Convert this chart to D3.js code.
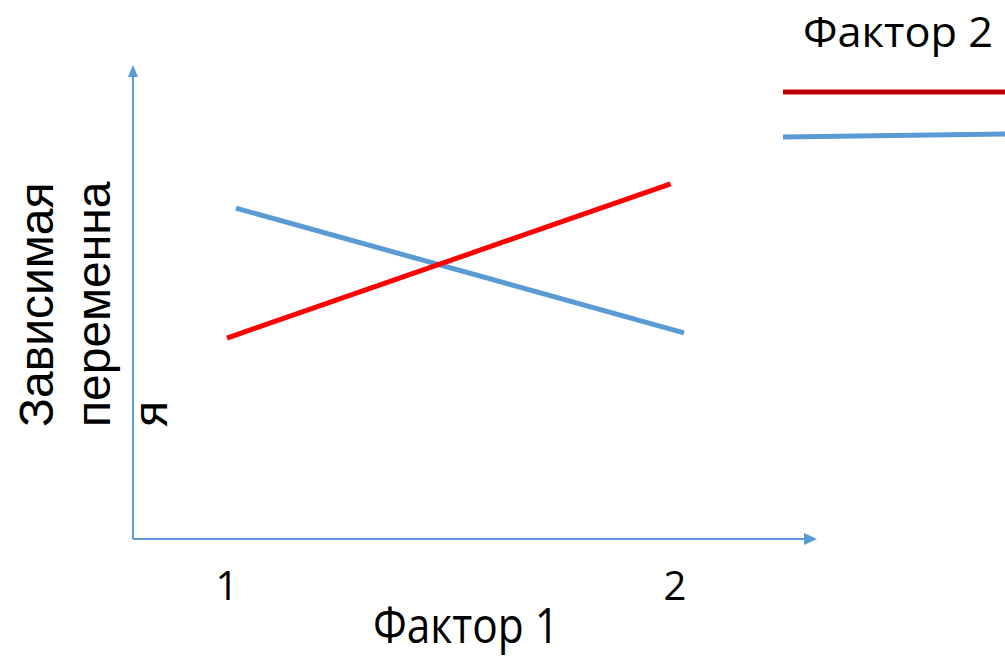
<!DOCTYPE html>
<html>
<head>
<meta charset="utf-8">
<script src="https://cdn.jsdelivr.net/npm/d3@7"></script>
<style>
  html, body { margin: 0; padding: 0; background: #fff; }
  svg { display: block; }
  .lbl { font-family: "Open Sans", sans-serif; fill: #000; }
  .ylbl { font-family: "Liberation Sans", Arial, sans-serif; fill: #000; }
</style>
</head>
<body>
<script>
const WIDTH = 1005;
const HEIGHT = 657;

// data
const factor1Levels = [1, 2];
const factor1Labels = ["1", "2"];
const redX = [1.0, 1.99];
const redY = [4.24, 7.49];
const blueX = [1.02, 2.02];
const blueY = [6.98, 4.35];
const yLabelLines = ["Зависимая", "переменна", "я"];

const RED = "#ff0000";
const LEGEND_RED = "#c00000";
const BLUE = "#5b9bd5";

const x = d3.scaleLinear().domain([1, 2]).range([227, 675]);
const y = d3.scaleLinear().domain([0, 10]).range([539, 65]);

const svg = d3.select("body").append("svg")
    .attr("width", WIDTH)
    .attr("height", HEIGHT);

// axes with arrowheads
const axisLeft = 133;
const axisRight = 804;
const axisTop = 77;

svg.append("line")
    .attr("x1", axisLeft).attr("y1", y(0))
    .attr("x2", axisRight).attr("y2", y(0))
    .attr("stroke", BLUE).attr("stroke-width", 2);
svg.append("path")
    .attr("d", `M${axisRight},${y(0) - 6} L${axisRight + 13},${y(0)} L${axisRight},${y(0) + 6} Z`)
    .attr("fill", BLUE);

svg.append("line")
    .attr("x1", axisLeft).attr("y1", y(0))
    .attr("x2", axisLeft).attr("y2", axisTop)
    .attr("stroke", BLUE).attr("stroke-width", 2);
svg.append("path")
    .attr("d", `M${axisLeft - 5},${axisTop} L${axisLeft},${y(10)} L${axisLeft + 5},${axisTop} Z`)
    .attr("fill", BLUE);

// data lines
const line = d3.line().x(d => x(d[0])).y(d => y(d[1]));

svg.append("path")
    .attr("d", line(d3.zip(blueX, blueY)))
    .attr("fill", "none")
    .attr("stroke", BLUE)
    .attr("stroke-width", 5);

svg.append("path")
    .attr("d", line(d3.zip(redX, redY)))
    .attr("fill", "none")
    .attr("stroke", RED)
    .attr("stroke-width", 5);

// tick labels
svg.selectAll(".tick-lbl")
    .data(factor1Levels)
    .join("text")
    .attr("class", "lbl tick-lbl")
    .attr("x", d => x(d))
    .attr("y", 600)
    .attr("text-anchor", "middle")
    .attr("font-size", 40)
    .text((d, i) => factor1Labels[i]);

svg.append("text")
    .attr("class", "lbl")
    .attr("x", 373)
    .attr("y", 643)
    .attr("font-size", 50)
    .attr("textLength", 186)
    .attr("lengthAdjust", "spacingAndGlyphs")
    .text("Фактор 1");

// y label, rotated
svg.selectAll(".ylbl")
    .data(yLabelLines)
    .join("text")
    .attr("class", "ylbl")
    .attr("transform", (d, i) => `translate(${53 + i * 57},427) rotate(-90)`)
    .attr("font-size", 48)
    .text(d => d);

// legend
svg.append("text")
    .attr("class", "lbl")
    .attr("x", 803)
    .attr("y", 47)
    .attr("font-size", 42)
    .attr("textLength", 190)
    .attr("lengthAdjust", "spacingAndGlyphs")
    .text("Фактор 2");

const legend = [
    { color: LEGEND_RED, y1: 92, y2: 92 },
    { color: BLUE, y1: 137, y2: 134 }
];
svg.selectAll(".legend-line")
    .data(legend)
    .join("line")
    .attr("class", "legend-line")
    .attr("x1", 783).attr("x2", 1005)
    .attr("y1", d => d.y1).attr("y2", d => d.y2)
    .attr("stroke", d => d.color)
    .attr("stroke-width", 5);
</script>
</body>
</html>
